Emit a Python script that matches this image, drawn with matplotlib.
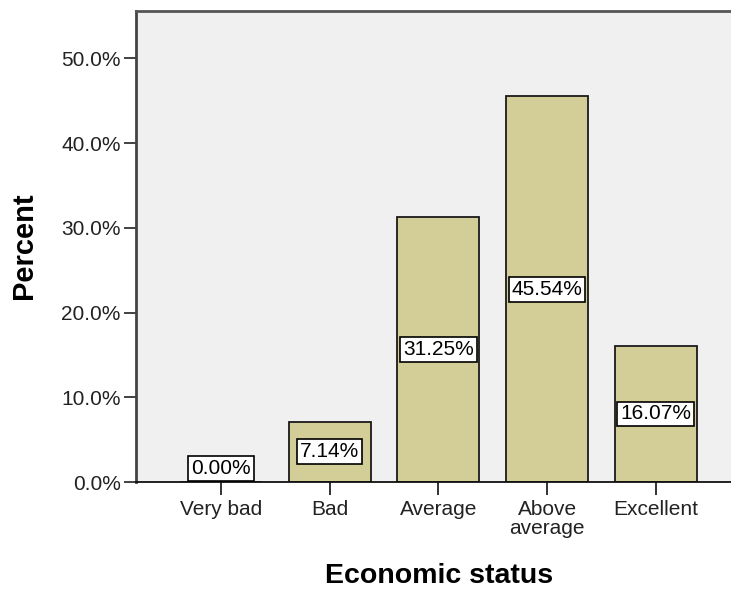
import matplotlib
matplotlib.use("Agg")
import matplotlib.pyplot as plt

categories = ["Very bad", "Bad", "Average", "Above\naverage", "Excellent"]
percents = [0.00, 7.14, 31.25, 45.54, 16.07]
value_labels = ["0.00%", "7.14%", "31.25%", "45.54%", "16.07%"]
yticks = [0, 10, 20, 30, 40, 50]
ytick_labels = ["0.0%", "10.0%", "20.0%", "30.0%", "40.0%", "50.0%"]

plt.rcParams['font.family'] = ['Liberation Sans', 'DejaVu Sans']

fig = plt.figure(figsize=(7.31, 5.92), dpi=100)
W, H = 731, 592
left_px, right_px, top_px, bottom_px = 136, 746, 11, 482
ax = fig.add_axes([left_px / W, 1 - bottom_px / H, (right_px - left_px) / W, (bottom_px - top_px) / H])
ax.set_facecolor('#F0F0F0')

x = list(range(len(categories)))
ax.bar(x, percents, width=0.755, color='#D3CE97', edgecolor='#1a1a1a', linewidth=1.3, zorder=2)

for xi, v, lab in zip(x, percents, value_labels):
    if v == 0:
        ax.text(xi, 0.45, lab, ha='center', va='bottom', fontsize=15, zorder=4,
                bbox=dict(boxstyle='square,pad=0.14', fc='white', ec='black', lw=1.2))
    else:
        ax.text(xi, v / 2, lab, ha='center', va='center', fontsize=15, zorder=4,
                bbox=dict(boxstyle='square,pad=0.14', fc='white', ec='black', lw=1.2))

ax.set_xlim(-0.78, 4.83)
ax.set_ylim(0, 55.6)
ax.set_xticks(x)
ax.set_xticklabels(categories, fontsize=15, color='#222222', linespacing=1.0)
ax.set_yticks(yticks)
ax.set_yticklabels(ytick_labels, fontsize=15, color='#222222')
ax.tick_params(axis='x', length=9, width=1.3, pad=4, color='#222222')
ax.tick_params(axis='y', length=9, width=1.3, pad=2, color='#333333')

ax.spines['right'].set_visible(False)
ax.spines['left'].set_color('#444444')
ax.spines['left'].set_linewidth(2)
ax.spines['top'].set_color('#555555')
ax.spines['top'].set_linewidth(2)
ax.spines['bottom'].set_color('#111111')
ax.spines['bottom'].set_linewidth(1.3)

ax.set_xlabel("Economic status", fontsize=20.5, fontweight='bold')
ax.xaxis.set_label_coords((439 - left_px) / (right_px - left_px), -(563 - bottom_px) / (bottom_px - top_px))
ax.set_ylabel("Percent", fontsize=21, fontweight='bold')
ax.yaxis.set_label_coords((38 - left_px) / (right_px - left_px), (482 - 246) / (bottom_px - top_px))

fig.savefig("out.png", dpi=100)
